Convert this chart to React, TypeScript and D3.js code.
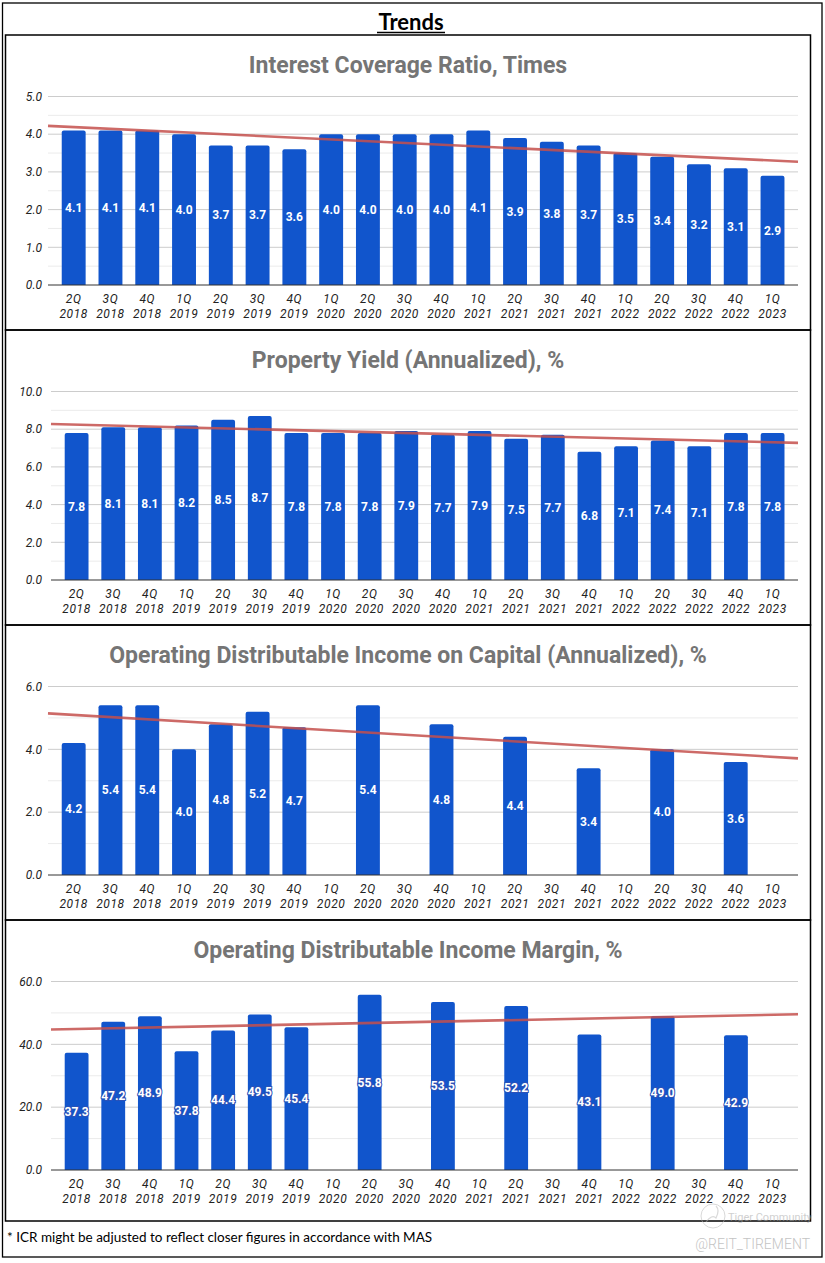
import React from 'react';
import * as d3 from 'd3';

const quarters = [
  '2Q 2018', '3Q 2018', '4Q 2018',
  '1Q 2019', '2Q 2019', '3Q 2019', '4Q 2019',
  '1Q 2020', '2Q 2020', '3Q 2020', '4Q 2020',
  '1Q 2021', '2Q 2021', '3Q 2021', '4Q 2021',
  '1Q 2022', '2Q 2022', '3Q 2022', '4Q 2022',
  '1Q 2023',
];

const interestCoverage = [4.1, 4.1, 4.1, 4.0, 3.7, 3.7, 3.6, 4.0, 4.0, 4.0, 4.0, 4.1, 3.9, 3.8, 3.7, 3.5, 3.4, 3.2, 3.1, 2.9];
const propertyYield = [7.8, 8.1, 8.1, 8.2, 8.5, 8.7, 7.8, 7.8, 7.8, 7.9, 7.7, 7.9, 7.5, 7.7, 6.8, 7.1, 7.4, 7.1, 7.8, 7.8];
const odiOnCapital = [4.2, 5.4, 5.4, 4.0, 4.8, 5.2, 4.7, null, 5.4, null, 4.8, null, 4.4, null, 3.4, null, 4.0, null, 3.6, null];
const odiMargin = [37.3, 47.2, 48.9, 37.8, 44.4, 49.5, 45.4, null, 55.8, null, 53.5, null, 52.2, null, 43.1, null, 49.0, null, 42.9, null];

const panels = [
  { title: 'Interest Coverage Ratio, Times', values: interestCoverage, yMax: 5, major: 1, top: 35, bottom: 330, gridLeft: 48, outlined: false },
  { title: 'Property Yield (Annualized), %', values: propertyYield, yMax: 10, major: 2, top: 330, bottom: 625, gridLeft: 51, outlined: false },
  { title: 'Operating Distributable Income on Capital (Annualized), %', values: odiOnCapital, yMax: 6, major: 2, top: 625, bottom: 920, gridLeft: 48, outlined: false },
  { title: 'Operating Distributable Income Margin, %', values: odiMargin, yMax: 60, major: 20, top: 920, bottom: 1221, gridLeft: 51, outlined: true },
];

const W = 825;
const H = 1263;
const gridRight = 798;
const barColor = '#1155cc';
const font = 'Roboto, sans-serif';

// least squares line over the non-empty points
function linearFit(values: (number | null)[]) {
  const pts = values
    .map((v, i) => [i, v] as [number, number | null])
    .filter(p => p[1] != null) as [number, number][];
  const mx = d3.mean(pts, p => p[0])!;
  const my = d3.mean(pts, p => p[1])!;
  const slope = d3.sum(pts, p => (p[0] - mx) * (p[1] - my)) / d3.sum(pts, p => (p[0] - mx) ** 2);
  return (i: number) => my + slope * (i - mx);
}

function barPath(x: number, y: number, w: number, h: number, r: number) {
  return `M${x},${y + h}V${y + r}Q${x},${y} ${x + r},${y}H${x + w - r}Q${x + w},${y} ${x + w},${y + r}V${y + h}Z`;
}

const Panel: React.FC<{ p: typeof panels[number] }> = ({ p }) => {
  const gridTop = p.top + 61.5;
  const baseline = p.top + 250;
  const y = d3.scaleLinear().domain([0, p.yMax]).range([baseline, gridTop]);
  const x = d3.scaleBand<string>()
    .domain(quarters)
    .range([p.gridLeft + 7.3, gridRight - 7.1])
    .paddingInner(0.35)
    .paddingOuter(0.175);
  const majors = d3.range(0, p.yMax + 1e-9, p.major);
  const minors = d3.range(p.major / 2, p.yMax, p.major);
  const fmt = d3.format('.1f');

  const fit = linearFit(p.values);
  const center0 = x(quarters[0])! + x.bandwidth() / 2;
  const step = x.step();
  const toIdx = (px: number) => (px - center0) / step;
  const i0 = toIdx(p.gridLeft);
  const i1 = toIdx(gridRight);

  return (
    <g>
      <rect x={5.5} y={p.top} width={805} height={p.bottom - p.top} fill="none" stroke="#000" strokeWidth={1.5} />
      <text x={408} y={p.top + 37.5} textAnchor="middle" fontFamily={font} fontWeight={700} fontSize={23} fill="#757575">
        {p.title}
      </text>
      {minors.map(v => (
        <line key={'m' + v} x1={p.gridLeft} x2={gridRight} y1={y(v)} y2={y(v)} stroke="#ebebeb" strokeWidth={1} />
      ))}
      {majors.map(v => (
        <g key={'M' + v}>
          {v > 0 && <line x1={p.gridLeft} x2={gridRight} y1={y(v)} y2={y(v)} stroke="#cccccc" strokeWidth={1} />}
          <text x={42} y={y(v)} dy="0.35em" textAnchor="end" fontFamily={font} fontStyle="italic" fontSize={12} fill="#222">
            {fmt(v)}
          </text>
        </g>
      ))}
      {p.values.map((v, i) => {
        if (v == null) return null;
        const bx = x(quarters[i])!;
        const by = y(v);
        return (
          <path key={i} d={barPath(bx, by, x.bandwidth(), baseline - by, 2)} fill={barColor} />
        );
      })}
      <line x1={p.gridLeft} x2={gridRight} y1={y(fit(i0))} y2={y(fit(i1))} stroke="#c4504c" strokeOpacity={0.85} strokeWidth={2.6} />
      {p.values.map((v, i) => {
        if (v == null) return null;
        const cx = x(quarters[i])! + x.bandwidth() / 2;
        const cy = (y(v) + baseline) / 2;
        return (
          <text key={'l' + i} x={cx} y={cy} dy="0.35em" textAnchor="middle" fontFamily={font} fontWeight={700} fontSize={12}
            fill="#fff"
            stroke={p.outlined ? '#2b52b8' : 'none'}
            strokeWidth={p.outlined ? 2 : 0}
            paintOrder="stroke">
            {fmt(v)}
          </text>
        );
      })}
      <line x1={p.gridLeft} x2={gridRight} y1={baseline} y2={baseline} stroke="#333" strokeWidth={1} />
      {quarters.map(q => {
        const [a, b] = q.split(' ');
        const cx = x(q)! + x.bandwidth() / 2;
        return (
          <text key={q} textAnchor="middle" fontFamily={font} fontStyle="italic" fontSize={12} fill="#222" letterSpacing={0.6}>
            <tspan x={cx} y={baseline + 17.5}>{a}</tspan>
            <tspan x={cx} y={baseline + 33}>{b}</tspan>
          </text>
        );
      })}
    </g>
  );
};

export default function App() {
  return (
    <div style={{ position: 'absolute', left: 0, top: 0 }}>
      <svg width={W} height={H} viewBox={`0 0 ${W} ${H}`} style={{ display: 'block', background: '#fff' }}>
        <rect x={2.5} y={3} width={819.5} height={1254} fill="none" stroke="#000" strokeWidth={1.3} />
        <text x={411} y={29.5} textAnchor="middle" fontFamily="Lato, sans-serif" fontWeight={700} fontSize={22} fill="#000">
          Trends
        </text>
        <line x1={377} x2={445} y1={32.5} y2={32.5} stroke="#000" strokeWidth={1.6} />
        {panels.map(p => <Panel key={p.title} p={p} />)}
        <text x={7} y={1242} fontFamily="Lato, sans-serif" fontSize={13.5} fill="#000">
          * ICR might be adjusted to reflect closer figures in accordance with MAS
        </text>
        {/* watermark */}
        <g opacity={0.55}>
          <circle cx={713} cy={1216} r={12} fill="none" stroke="#bbb" strokeWidth={1} />
          <path d="M706,1222 Q712,1214 716,1218 Q720,1210 716,1206" fill="none" stroke="#bbb" strokeWidth={1.2} />
          <text x={728} y={1221} fontFamily={font} fontSize={11} fill="#aaa">Tiger Community</text>
        </g>
        <text x={810} y={1249} textAnchor="end" fontFamily={font} fontWeight={300} fontSize={14} fill="#c4c4c4">
          @REIT_TIREMENT
        </text>
      </svg>
    </div>
  );
}
